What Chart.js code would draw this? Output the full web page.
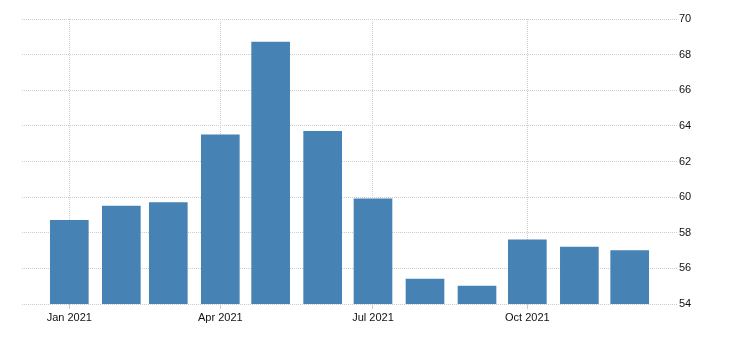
<!DOCTYPE html>
<html>
<head>
<meta charset="utf-8">
<script src="https://cdn.jsdelivr.net/npm/chart.js@4"></script>
<style>
  html, body { margin: 0; padding: 0; background: #fff; }
  #wrap { width: 730px; height: 340px; }
</style>
</head>
<body>
<div id="wrap"><canvas id="myChart" width="730" height="340"></canvas></div>
<script>
const months = ['2021-01-01', '2021-02-01', '2021-03-01', '2021-04-01', '2021-05-01', '2021-06-01',
  '2021-07-01', '2021-08-01', '2021-09-01', '2021-10-01', '2021-11-01', '2021-12-01'];
const values = [58.7, 59.5, 59.7, 63.5, 68.7, 63.7, 59.9, 55.4, 55.0, 57.6, 57.2, 57.0];
const tickDates = ['2021-01-01', '2021-04-01', '2021-07-01', '2021-10-01'];
const tickLabels = ['Jan 2021', 'Apr 2021', 'Jul 2021', 'Oct 2021'];
const yTicks = [54, 56, 58, 60, 62, 64, 66, 68, 70];

// days counted from 1 Jan 2021, so the bars sit where a time axis would put them
const start = Date.UTC(2021, 0, 1);
function dayOf(s) {
  const p = s.split('-');
  return (Date.UTC(+p[0], +p[1] - 1, +p[2]) - start) / 86400000;
}

const points = months.map((m, i) => ({ x: dayOf(m), y: values[i] }));
const tickDays = tickDates.map(dayOf);

const gridColor = '#cccccc';
const textColor = '#111111';
const font = { family: "'Liberation Sans', Arial, sans-serif", size: 11 };

const config = {
  type: 'bar',
  data: {
    datasets: [{
      data: points,
      backgroundColor: '#4682b4',
      borderWidth: 0,
      barThickness: 38
    }]
  },
  options: {
    responsive: false,
    animation: false,
    events: [],
    layout: { padding: { left: 22, top: 19, right: 0, bottom: 0 } },
    plugins: {
      legend: { display: false },
      tooltip: { enabled: false }
    },
    scales: {
      x: {
        type: 'linear',
        min: -28.2,
        max: 362.2,
        offset: false,
        grid: {
          offset: false,
          color: gridColor,
          tickColor: gridColor,
          tickLength: 5,
          tickBorderDash: []
        },
        border: { display: false, dash: [1, 1] },
        afterBuildTicks: function (axis) {
          axis.ticks = tickDays.map(d => ({ value: d }));
        },
        afterFit: function (axis) { axis.height = 36; },
        ticks: {
          color: textColor,
          font: font,
          padding: 2,
          maxRotation: 0,
          autoSkip: false,
          callback: function (v) {
            const k = tickDays.indexOf(v);
            return k >= 0 ? tickLabels[k] : '';
          }
        }
      },
      y: {
        position: 'right',
        min: 54,
        max: 70,
        grid: {
          color: gridColor,
          drawTicks: false
        },
        border: { display: false, dash: [1, 1] },
        afterBuildTicks: function (axis) {
          axis.ticks = yTicks.map(v => ({ value: v }));
        },
        afterFit: function (axis) { axis.width = 53; },
        ticks: {
          color: textColor,
          font: font,
          padding: 2
        }
      }
    }
  }
};

const myChart = new Chart(document.getElementById('myChart').getContext('2d'), config);
</script>
</body>
</html>
